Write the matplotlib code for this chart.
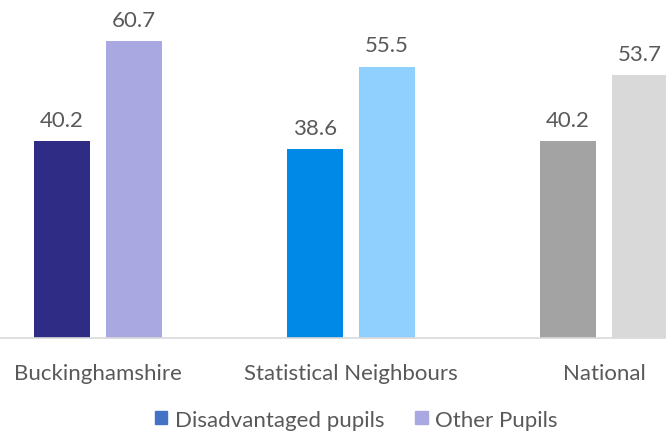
import matplotlib.pyplot as plt
from matplotlib.patches import Patch
import numpy as np

categories = ['Buckinghamshire', 'Statistical Neighbours', 'National']
disadvantaged = [40.2, 38.6, 40.2]
other = [60.7, 55.5, 53.7]

dis_colors = ['#2e2c84', '#0089e6', '#a3a3a3']
oth_colors = ['#aaa8e1', '#8fd0fe', '#d9d9d9']

plt.rcParams['font.family'] = ['Lato', 'DejaVu Sans']
txt = '#595959'

fig = plt.figure(figsize=(6.66, 4.35), dpi=100)
ax = fig.add_axes([0, 0.2207, 1, 0.7793])

x = np.arange(len(categories))
w = 0.221
off = 0.143
b1 = ax.bar(x - off, disadvantaged, w, color=dis_colors)
b2 = ax.bar(x + off, other, w, color=oth_colors)

for bars, vals in ((b1, disadvantaged), (b2, other)):
    for b, v in zip(bars, vals):
        ax.annotate(f'{v:.1f}', (b.get_x() + b.get_width() / 2, v),
                    xytext=(0, 8), textcoords='offset points',
                    ha='center', va='bottom', fontsize=16, color=txt)

ax.set_xlim(-0.387, 2.245)
ax.set_ylim(0, 69.3)
ax.set_yticks([])
ax.set_xticks(x)
ax.set_xticklabels(categories, fontsize=16, color=txt)
ax.tick_params(axis='x', length=0, pad=18)
for s in ('left', 'right', 'top'):
    ax.spines[s].set_visible(False)
ax.spines['bottom'].set_color('#d9d9d9')
ax.spines['bottom'].set_linewidth(1.2)
ax.patch.set_visible(False)

handles = [Patch(color='#4472c4', label='Disadvantaged pupils'),
           Patch(color='#aaa8e1', label='Other Pupils')]
fig.legend(handles=handles, loc='center', bbox_to_anchor=(0.535, 0.033),
           ncol=2, frameon=False, fontsize=16, labelcolor=txt,
           handlelength=0.55, handleheight=0.55, handletextpad=0.35,
           columnspacing=1.4)

fig.savefig('out.png', dpi=100)
